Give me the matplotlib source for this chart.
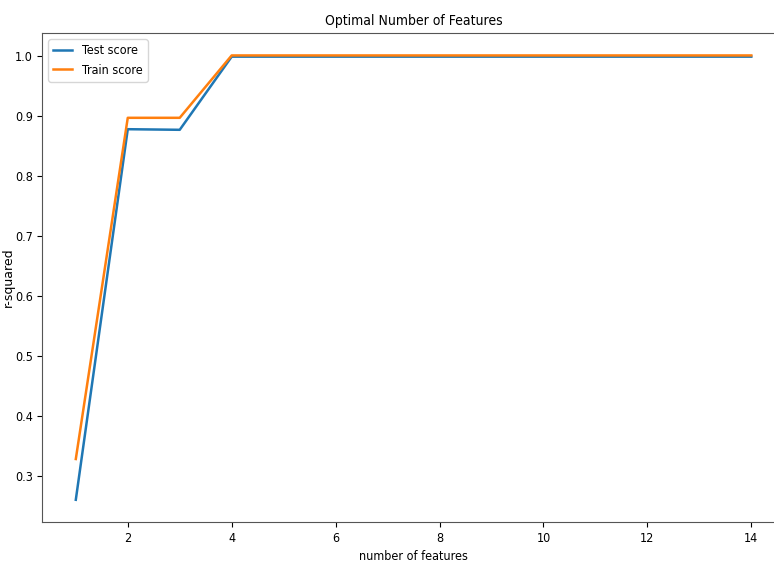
import matplotlib
matplotlib.use("Agg")
import matplotlib.pyplot as plt
from matplotlib import font_manager

n_features = [1, 2, 3, 4, 5, 6, 7, 8, 9, 10, 11, 12, 13, 14]
test_score = [0.260, 0.878, 0.877, 0.999, 0.999, 0.999, 0.999, 0.999, 0.999, 0.999, 0.999, 0.999, 0.999, 0.999]
train_score = [0.328, 0.897, 0.897, 1.001, 1.001, 1.001, 1.001, 1.001, 1.001, 1.001, 1.001, 1.001, 1.001, 1.001]

# narrow-looking text: pick a condensed font file if one is installed
cond = None
for pref in ['DejaVuSansCondensed.ttf', 'LiberationSansNarrow-Regular.ttf', 'RobotoCondensed-Regular.ttf']:
    for f in font_manager.fontManager.ttflist:
        if f.fname.endswith(pref):
            cond = f.fname
            break
    if cond:
        break

def fp(size):
    if cond:
        return font_manager.FontProperties(fname=cond, size=size)
    return font_manager.FontProperties(family='Liberation Sans', size=size)

fig = plt.figure(figsize=(7.74, 5.69), dpi=100)
ax = fig.add_axes([0.0543, 0.0826, 0.96, 0.859])

ax.plot(n_features, test_score, label='Test score', color='#1f77b4', linewidth=1.8)
ax.plot(n_features, train_score, label='Train score', color='#ff7f0e', linewidth=1.8)

ax.set_xticks([2, 4, 6, 8, 10, 12, 14])
for lab in ax.get_xticklabels() + ax.get_yticklabels():
    lab.set_fontproperties(fp(9))
ax.tick_params(axis='y', pad=3)
ax.set_title('Optimal Number of Features', fontproperties=fp(10))
ax.set_xlabel('number of features', fontproperties=fp(9))
ax.set_ylabel('r-squared', fontsize=9, family='DejaVu Sans')
ax.yaxis.set_label_coords(-0.037, 0.5)
ax.legend(loc='upper left', prop=fp(9), handlelength=1.5)

for s in ax.spines.values():
    s.set_color('#555555')

fig.savefig('out.png', dpi=100)
